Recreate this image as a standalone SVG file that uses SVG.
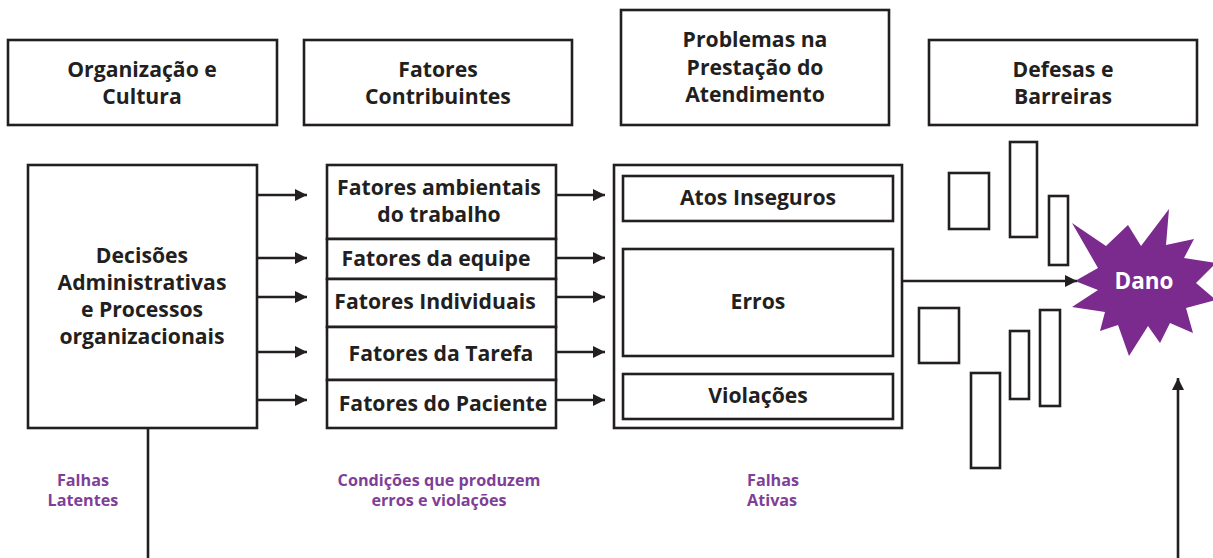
<svg xmlns="http://www.w3.org/2000/svg" width="1213" height="558" viewBox="0 0 1213 558">
<style>
.box{fill:#fff;stroke:#231f20;stroke-width:2.6}
.t{font-family:"Open Sans","Liberation Sans",sans-serif;font-weight:bold;font-size:21.2px;fill:#231f20;text-anchor:middle}
.p{font-family:"Open Sans","Liberation Sans",sans-serif;font-weight:bold;font-size:16.2px;fill:#7f3f98;text-anchor:middle}
.c{stroke:#231f20;stroke-width:2.4;fill:none}
</style>
<defs>
<marker id="ah" viewBox="0 0 12 12" refX="12" refY="6" markerWidth="12" markerHeight="12" markerUnits="userSpaceOnUse" orient="auto">
<path d="M0,0 L12,6 L0,12 z" fill="#231f20"/>
</marker>
</defs>
<rect width="1213" height="558" fill="#fff"/>
<g id="h-org"><rect class="box" x="8" y="40" width="269" height="85"/>
<text class="t" x="142" y="77">Organização e</text><text class="t" x="142" y="104">Cultura</text></g>
<g id="h-fat"><rect class="box" x="304" y="40" width="268" height="85"/>
<text class="t" x="438" y="77">Fatores</text><text class="t" x="438" y="104">Contribuintes</text></g>
<g id="h-prob"><rect class="box" x="621" y="10" width="268" height="115"/>
<text class="t" x="755" y="47">Problemas na</text><text class="t" x="755" y="75">Prestação do</text><text class="t" x="755" y="102">Atendimento</text></g>
<g id="h-def"><rect class="box" x="929" y="40" width="268" height="85"/>
<text class="t" x="1063" y="77">Defesas e</text><text class="t" x="1063" y="104">Barreiras</text></g>

<g id="decisoes"><rect class="box" x="28" y="165" width="229" height="263"/>
<text class="t" x="142" y="263">Decisões</text><text class="t" x="142" y="290">Administrativas</text><text class="t" x="142" y="317">e Processos</text><text class="t" x="142" y="344">organizacionais</text></g>

<g id="fatores">
<rect class="box" x="327" y="165" width="229" height="74"/>
<text class="t" x="439" y="195">Fatores ambientais</text><text class="t" x="439" y="222">do trabalho</text>
<rect class="box" x="327" y="239" width="229" height="40"/>
<text class="t" x="436" y="266">Fatores da equipe</text>
<rect class="box" x="327" y="279" width="229" height="48"/>
<text class="t" x="435" y="309">Fatores Individuais</text>
<rect class="box" x="327" y="327" width="229" height="53"/>
<text class="t" x="441" y="361">Fatores da Tarefa</text>
<rect class="box" x="327" y="380" width="229" height="48"/>
<text class="t" x="443" y="411">Fatores do Paciente</text>
</g>

<g id="problemas">
<rect class="box" x="614" y="165" width="288" height="263"/>
<rect class="box" x="623" y="176" width="270" height="45"/>
<text class="t" x="758" y="205">Atos Inseguros</text>
<rect class="box" x="623" y="249" width="270" height="107"/>
<text class="t" x="758" y="309">Erros</text>
<rect class="box" x="623" y="374" width="270" height="45"/>
<text class="t" x="758" y="403">Violações</text>
</g>

<g id="barreiras">
<rect class="box" x="949" y="173" width="40" height="56"/>
<rect class="box" x="1010" y="142" width="27" height="95"/>
<rect class="box" x="1049" y="196" width="19" height="69"/>
<rect class="box" x="919" y="308" width="40" height="55"/>
<rect class="box" x="971" y="373" width="29" height="95"/>
<rect class="box" x="1010" y="331" width="19" height="68"/>
<rect class="box" x="1040" y="310" width="20" height="96"/>
</g>

<g id="dano">
<polygon fill="#7b2a8e" points="1072,223 1106,246 1128,225 1141,246 1169,209 1166,245 1194,239 1184,258 1216,263 1196,283 1216,300 1186,308 1193,333 1170,323 1160,343 1148,326 1129,356 1118,325 1100,331 1105,312 1072,307 1098,290 1075,281 1098,268"/>
<text class="t" x="1144" y="289" style="fill:#fff;font-size:22.5px">Dano</text>
</g>

<g id="connectors">
<line class="c" x1="257" y1="195" x2="307" y2="195" marker-end="url(#ah)"/>
<line class="c" x1="257" y1="258" x2="307" y2="258" marker-end="url(#ah)"/>
<line class="c" x1="257" y1="297" x2="307" y2="297" marker-end="url(#ah)"/>
<line class="c" x1="257" y1="352" x2="307" y2="352" marker-end="url(#ah)"/>
<line class="c" x1="257" y1="400" x2="307" y2="400" marker-end="url(#ah)"/>
<line class="c" x1="556" y1="195" x2="605" y2="195" marker-end="url(#ah)"/>
<line class="c" x1="556" y1="258" x2="605" y2="258" marker-end="url(#ah)"/>
<line class="c" x1="556" y1="297" x2="605" y2="297" marker-end="url(#ah)"/>
<line class="c" x1="556" y1="352" x2="605" y2="352" marker-end="url(#ah)"/>
<line class="c" x1="556" y1="400" x2="605" y2="400" marker-end="url(#ah)"/>
<line class="c" x1="902" y1="281" x2="1077" y2="281" marker-end="url(#ah)"/>
<line class="c" x1="148" y1="428" x2="148" y2="558" style="stroke-width:2.6"/>
<line class="c" x1="1178" y1="558" x2="1178" y2="378" style="stroke-width:2.6" marker-end="url(#ah)"/>
</g>

<g id="labels">
<text class="p" x="83" y="486">Falhas</text><text class="p" x="83" y="506">Latentes</text>
<text class="p" x="439" y="486">Condições que produzem</text><text class="p" x="439" y="506">erros e violações</text>
<text class="p" x="747" y="486" style="text-anchor:start">Falhas</text><text class="p" x="747" y="506" style="text-anchor:start">Ativas</text>
</g>
</svg>
